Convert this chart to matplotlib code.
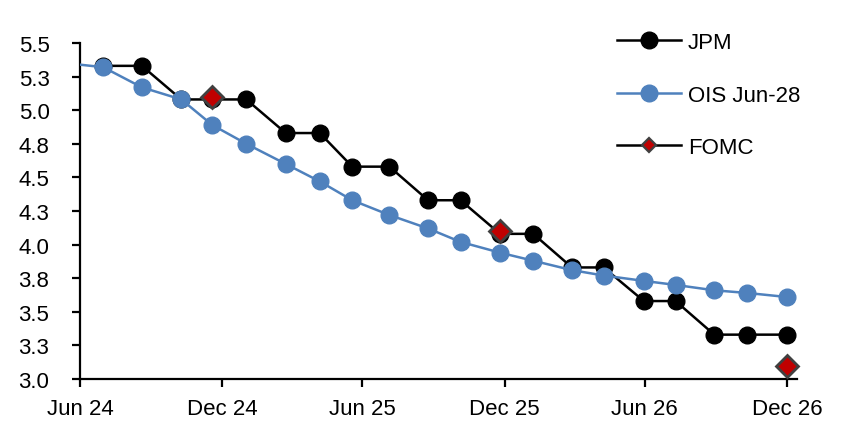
import datetime as dt
import matplotlib
matplotlib.use('Agg')
from matplotlib import pyplot as plt
from matplotlib.lines import Line2D

plt.rcParams['font.family'] = ['Liberation Sans', 'DejaVu Sans']

# meeting dates
dates = ['2024-07-30', '2024-09-18', '2024-11-08', '2024-12-18', '2025-01-31',
         '2025-03-23', '2025-05-06', '2025-06-17', '2025-08-04', '2025-09-23',
         '2025-11-04', '2025-12-25', '2026-02-06', '2026-03-28', '2026-05-08',
         '2026-06-29', '2026-08-09', '2026-09-28', '2026-11-10', '2026-12-31']
jpm = [5.33, 5.33, 5.08, 5.08, 5.08, 4.83, 4.83, 4.58, 4.58, 4.33,
       4.33, 4.08, 4.08, 3.83, 3.83, 3.58, 3.58, 3.33, 3.33, 3.33]

ois_dates = ['2024-06-12'] + dates
ois = [5.35, 5.32, 5.17, 5.08, 4.89, 4.75, 4.60, 4.47, 4.33, 4.22, 4.12,
       4.02, 3.94, 3.88, 3.81, 3.77, 3.73, 3.70, 3.66, 3.64, 3.61]

fomc_dates = ['2024-12-18', '2025-12-25', '2026-12-31']
fomc = [5.1, 4.1, 3.1]

xtick_dates = ['2024-06-30', '2024-12-31', '2025-06-30', '2025-12-31', '2026-06-30', '2026-12-31']
xtick_labels = ['Jun 24', 'Dec 24', 'Jun 25', 'Dec 25', 'Jun 26', 'Dec 26']
ytick_vals = [3.0, 3.25, 3.5, 3.75, 4.0, 4.25, 4.5, 4.75, 5.0, 5.25, 5.5]
ytick_labels = ['3.0', '3.3', '3.5', '3.8', '4.0', '4.3', '4.5', '4.8', '5.0', '5.3', '5.5']

def to_dt(lst):
	return [dt.datetime.strptime(d, '%Y-%m-%d') for d in lst]

black = '#000000'
blue = '#4F81BD'
red = '#C00000'
grey = '#404040'

fig = plt.figure(figsize=(8.57, 4.35), dpi=100)
ax = fig.add_axes([80/857, 1-380/435, 717/857, 336/435])

ax.plot(to_dt(dates), jpm, color=black, lw=1.8, marker='o', ms=12, zorder=2)
ax.plot(to_dt(ois_dates), ois, color=blue, lw=1.8, marker='o', ms=12, zorder=3)
ax.plot(to_dt(fomc_dates), fomc, ls='none', marker='D', ms=11.5, mfc=red, mec=grey, mew=2, zorder=4, clip_on=False)

ax.set_xlim(dt.datetime(2024, 6, 30), dt.datetime(2027, 1, 13))
ax.set_ylim(3.0, 5.5)
ax.set_xticks(to_dt(xtick_dates))
ax.set_xticklabels(xtick_labels)
ax.set_yticks(ytick_vals)
ax.set_yticklabels(ytick_labels)

for s in ['top', 'right']:
	ax.spines[s].set_visible(False)
for s in ['left', 'bottom']:
	ax.spines[s].set_linewidth(1.6)
ax.tick_params(axis='both', direction='out', length=6, width=1.6, labelsize=16)
ax.tick_params(axis='x', pad=8)
ax.tick_params(axis='y', pad=16)

handles = [Line2D([], [], color=black, lw=1.8, marker='o', ms=12),
           Line2D([], [], color=blue, lw=1.8, marker='o', ms=12),
           Line2D([], [], color=black, lw=1.8, marker='D', ms=7, mfc=red, mec=grey, mew=1.6)]
fig.legend(handles, ['JPM', 'OIS Jun-28', 'FOMC'], loc='upper left',
           bbox_to_anchor=(617/857, 1-33/435), frameon=False, fontsize=16,
           borderpad=0, borderaxespad=0, handlelength=2.9, handletextpad=0.3,
           labelspacing=1.42)

plt.savefig('out.png', dpi=100)
